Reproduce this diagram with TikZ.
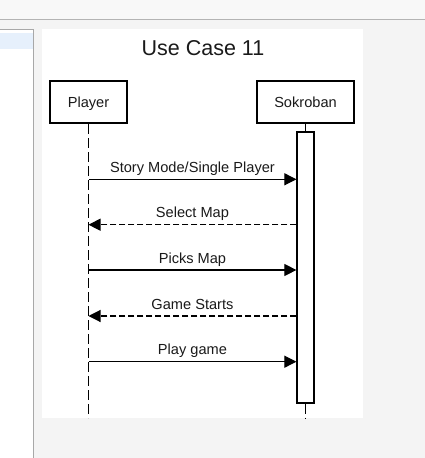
\documentclass[tikz,border=0pt]{standalone}
\usepackage{fontspec}
\setmainfont{Liberation Sans}
\usetikzlibrary{arrows.meta}
\definecolor{bgGray}{HTML}{F4F4F4}
\definecolor{topGray}{HTML}{F8F8F8}
\definecolor{lineGray}{HTML}{B4B4B4}
\definecolor{panelBorder}{HTML}{A8A8A8}
\definecolor{selBlue}{HTML}{E6F0FC}
\definecolor{inkGray}{HTML}{1A1A1A}
\begin{document}
\begin{tikzpicture}[x=1pt,y=-1pt,
  actorbox/.style={draw=black, line width=2.4pt, fill=white, minimum height=41.6pt,
    inner sep=0pt, font=\fontsize{14.6}{17}\selectfont, text=inkGray,
    text height=10.4pt, text depth=0pt},
  actbar/.style={draw=black, line width=1.2pt, fill=white, minimum width=17pt,
    minimum height=271pt, inner sep=0pt},
  lifeline/.style={line width=1.1pt, dash pattern=on 10pt off 4pt},
  msg/.style={line width=1.1pt, -{Triangle[length=12pt,width=12pt]}},
  reply/.style={msg, dash pattern=on 6pt off 3pt},
  msglabel/.style={anchor=base, yshift=7pt, inner sep=0pt,
    font=\fontsize{14.6}{17}\selectfont, text=inkGray}]
\useasboundingbox (0,0) rectangle (425,458);
% window chrome
\fill[bgGray] (0,0) rectangle (425,458);
\fill[topGray] (0,0) rectangle (425,19);
\draw[lineGray] (0,19.5) -- (425,19.5);
\fill[white] (0,29) rectangle (33,458);
\fill[selBlue] (0,33) rectangle (33,49);
\draw[panelBorder] (0,29.5) -- (33.5,29.5) -- (33.5,458);
\fill[white] (42,29) rectangle (363,418);
% title
\node[anchor=base, inner sep=0pt, font=\fontsize{21.5}{25}\selectfont, text=inkGray]
  (title) at (203,55) {Use Case 11};
% actors
\node[actorbox, minimum width=76.6pt] (player) at (88.5,102) {Player};
\node[actorbox, minimum width=96.6pt] (sok) at (305.5,102) {Sokroban};
\node[actbar] (act) at (305.5,267.5) {};
\coordinate (pend) at (88.5,418);
\coordinate (send) at (305.5,418);
\draw[line width=1.1pt] (sok.south) -- (act.north);
\draw[lifeline] (player.south) -- (pend);
\draw[lifeline] (act.south) -- (send);
% message anchor points on the player lifeline
\coordinate (m1) at (88.5,179.3);
\coordinate (m2) at (88.5,224.7);
\coordinate (m3) at (88.5,270);
\coordinate (m4) at (88.5,316);
\coordinate (m5) at (88.5,361.7);
\draw[msg] (m1) -- (act.west |- m1) node[msglabel, pos=0.5] {Story Mode/Single Player};
\draw[reply] (act.west |- m2) -- (m2) node[msglabel, pos=0.5] {Select Map};
\draw[msg] (m3) -- (act.west |- m3) node[msglabel, pos=0.5] {Picks Map};
\draw[reply] (act.west |- m4) -- (m4) node[msglabel, pos=0.5] {Game Starts};
\draw[msg] (m5) -- (act.west |- m5) node[msglabel, pos=0.5] {Play game};
\end{tikzpicture}
\end{document}
